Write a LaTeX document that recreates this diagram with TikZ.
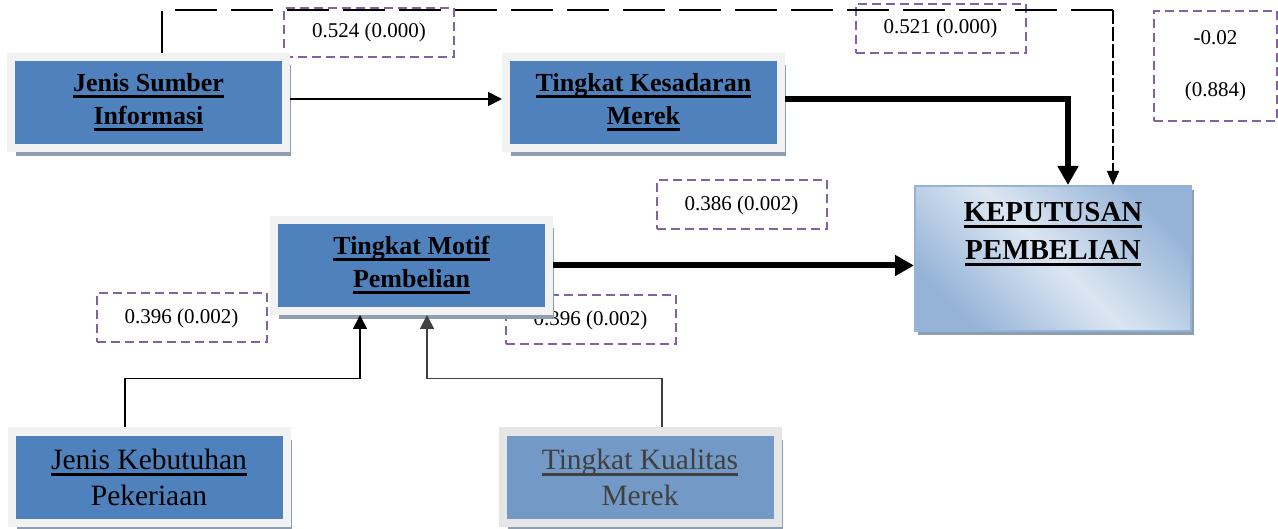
\documentclass[tikz,border=0pt]{standalone}
\usepackage{fontspec}
\setmainfont{Liberation Serif}
\usetikzlibrary{arrows.meta,shadows}

\definecolor{kotakbiru}{HTML}{4F81BD}
\definecolor{kotakpudar}{HTML}{7399C6}
\definecolor{bingkai}{HTML}{F2F2F2}
\definecolor{bingkaipudar}{HTML}{E6E6E6}
\definecolor{bayang}{HTML}{8E9DAF}
\definecolor{ungu}{HTML}{8064A2}
\definecolor{birumuda}{HTML}{DCE6F2}
\definecolor{birutua}{HTML}{95B3D7}
\definecolor{teksabu}{HTML}{404040}

\newcommand{\garis}[1]{\setbox0\hbox{#1}\rlap{\vrule height -3.5pt depth 6.5pt width \wd0}\box0}

\tikzset{blok/.style={draw=bingkai,line width=8pt,fill=kotakbiru,minimum width=275pt,minimum height=91pt,inner sep=0pt,align=center,font=\fontsize{26}{33}\selectfont\bfseries,drop shadow={shadow xshift=5pt,shadow yshift=-8pt,fill=bayang,opacity=1}}}
\tikzset{blokbiasa/.style={blok,font=\fontsize{29.5}{36}\selectfont}}
\tikzset{hasil/.style={draw=birutua,line width=2pt,minimum width=276pt,minimum height=145pt,top color=birutua,bottom color=birutua,middle color=birumuda,shading angle=-45,drop shadow={shadow xshift=3pt,shadow yshift=-4pt,fill=bayang,opacity=1}}}
\tikzset{nilai/.style={draw=ungu,line width=2pt,dash pattern=on 9pt off 5pt,minimum width=170pt,minimum height=49pt,inner sep=0pt,align=center,font=\fontsize{21}{24}\selectfont}}
\tikzset{tipis/.style={line width=1.8pt,-{Triangle[length=14pt,width=14pt]}}}
\tikzset{tebal/.style={line width=6pt,-{Triangle[length=19pt,width=20pt]}}}
\tikzset{putus/.style={line width=2pt,dash pattern=on 42pt off 14pt}}
\tikzset{putuspanah/.style={line width=1.5pt,dash pattern=on 14pt off 3pt,-{Triangle[length=14pt,width=12pt]}}}

\begin{document}
\begin{tikzpicture}[x=1pt,y=-1pt]
    \useasboundingbox (0,0) rectangle (1278,529);
    % nilai koefisien (p)
    \node[nilai] (n1) at (369,32.5)   {0.524 (0.000)};
    \node[nilai] (n2) at (940.5,28.5) {0.521 (0.000)};
    \node[nilai,minimum width=123pt,minimum height=110pt,font=\fontsize{21}{52}\selectfont] (n3) at (1215.5,66) {-0.02\\(0.884)};
    \node[nilai] (n4) at (741.5,205)  {0.386 (0.002)};
    \node[nilai] (n5) at (181.5,318)  {0.396 (0.002)};
    \node[nilai] (n6) at (590.5,320)  {0.396 (0.002)};
    % variabel
    \node[blok] (sumber)   at (148.5,102.5) {\garis{Jenis Sumber}\\\garis{Informasi}};
    \node[blok] (sadar)    at (643.5,102.5) {\garis{Tingkat Kesadaran}\\\garis{Merek}};
    \node[blok] (motif)    at (411.5,265.5) {\garis{Tingkat Motif}\\\garis{Pembelian}};
    \node[blokbiasa] (butuh)    at (149,477) {\garis{Jenis Kebutuhan}\\Pekeriaan};
    \node[blokbiasa,fill=kotakpudar,draw=bingkaipudar,text=teksabu] (kualitas) at (640,477) {\garis{Tingkat Kualitas}\\Merek};
    \node[hasil] (putusan) at (1053,258.5) {};
    \node[align=center,font=\fontsize{29}{38}\selectfont\bfseries] (putusanteks) at (1053,234) {\garis{KEPUTUSAN}\\\garis{PEMBELIAN}};
    % jalur
    \coordinate (asal) at ([yshift=3.5pt]sumber.east);
    \coordinate (sudut) at (1113,10);
    \draw[tipis] (asal) -- (sadar.west |- asal);
    \draw[tebal] ([yshift=3.5pt]sadar.east) -| ([xshift=15pt]putusan.north);
    \draw[putus] ([xshift=13.5pt]sumber.north) |- (sudut);
    \draw[putuspanah] (sudut) -- ([xshift=60pt]putusan.north);
    \draw[tebal] (motif.east) -- (putusan.west |- motif.east);
    \draw[tipis] ([xshift=-24pt]butuh.north) -- ++(0,-49) -| ([xshift=-51.5pt]motif.south);
    \draw[tipis,draw=teksabu] ([xshift=22pt]kualitas.north) -- ++(0,-49) -| ([xshift=15.5pt]motif.south);
\end{tikzpicture}
\end{document}
